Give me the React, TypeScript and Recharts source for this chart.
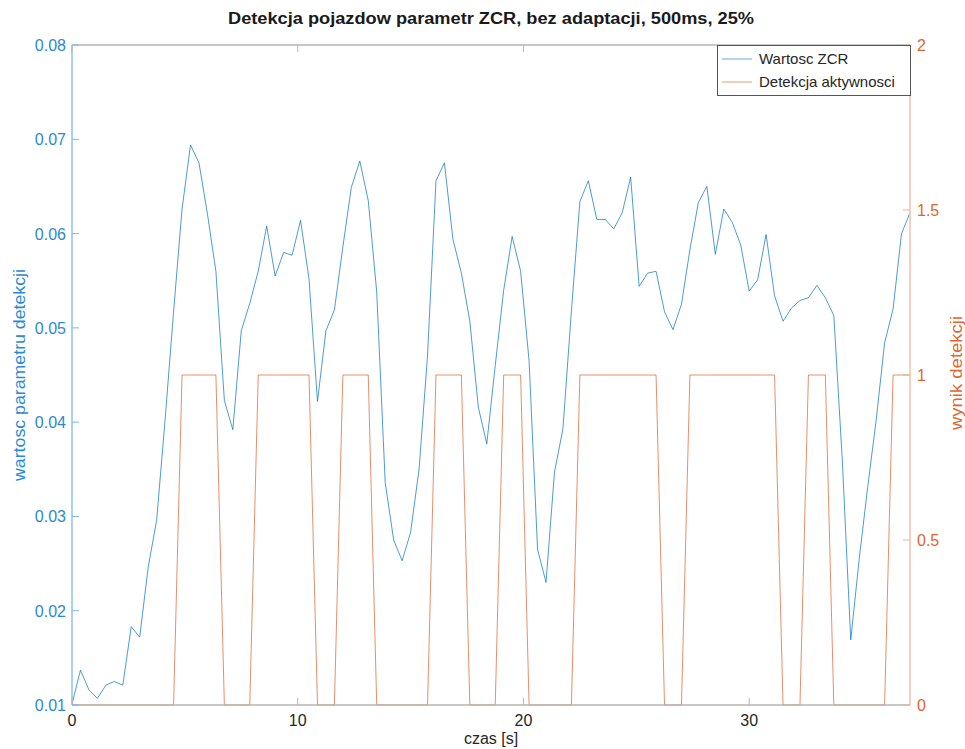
import { LineChart, Line, XAxis, YAxis, Legend } from 'recharts'

// frame hop: 500 ms window, 25% overlap -> 375 ms
const hop = 0.375

const zcr = [
  0.0101, 0.0137, 0.0116, 0.0107, 0.0121, 0.0125, 0.0121, 0.0183, 0.0172, 0.0246,
  0.0296, 0.0403, 0.0517, 0.0626, 0.0694, 0.0675, 0.0621, 0.0560, 0.0423, 0.0392,
  0.0497, 0.0526, 0.0560, 0.0608, 0.0555, 0.0580, 0.0577, 0.0614, 0.0552, 0.0422,
  0.0497, 0.0519, 0.0586, 0.0649, 0.0677, 0.0635, 0.0538, 0.0336, 0.0275, 0.0253,
  0.0283, 0.0350, 0.0470, 0.0656, 0.0675, 0.0594, 0.0558, 0.0507, 0.0416, 0.0377,
  0.0460, 0.0540, 0.0597, 0.0560, 0.0465, 0.0265, 0.0230, 0.0347, 0.0393, 0.0518,
  0.0634, 0.0656, 0.0615, 0.0615, 0.0605, 0.0622, 0.0660, 0.0544, 0.0558, 0.0560,
  0.0517, 0.0498, 0.0525, 0.0583, 0.0633, 0.0650, 0.0578, 0.0626, 0.0612, 0.0588,
  0.0539, 0.0551, 0.0599, 0.0534, 0.0507, 0.0521, 0.0529, 0.0532, 0.0545, 0.0532,
  0.0513, 0.0360, 0.0169, 0.0255, 0.0331, 0.0402, 0.0484, 0.0520, 0.0600, 0.0622,
]

const detection = [
  0, 0, 0, 0, 0, 0, 0, 0, 0, 0,
  0, 0, 0, 1, 1, 1, 1, 1, 0, 0,
  0, 0, 1, 1, 1, 1, 1, 1, 1, 0,
  0, 0, 1, 1, 1, 1, 0, 0, 0, 0,
  0, 0, 0, 1, 1, 1, 1, 0, 0, 0,
  0, 1, 1, 1, 0, 0, 0, 0, 0, 0,
  1, 1, 1, 1, 1, 1, 1, 1, 1, 1,
  0, 0, 0, 1, 1, 1, 1, 1, 1, 1,
  1, 1, 1, 1, 0, 0, 0, 1, 1, 1,
  0, 0, 0, 0, 0, 0, 0, 1, 1, 1,
]

const xTicks = [0, 10, 20, 30]
const leftTicks = [0.01, 0.02, 0.03, 0.04, 0.05, 0.06, 0.07, 0.08]
const rightTicks = [0, 0.5, 1, 1.5, 2]

const data = zcr.map((v, i) => ({ t: i * hop, zcr: v, det: detection[i] }))
const tEnd = (zcr.length - 1) * hop

const BLUE = '#0072BD'
const ORANGE = '#D95319'
const FONT = '"Liberation Sans", Arial, sans-serif'

const LeftTick = ({ x, y, payload }: any) => (
  <g>
    <line x1={x} x2={x + 7} y1={y} y2={y} stroke="#7db8e5" strokeWidth={1} />
    <text x={x - 6} y={y} dy={6} textAnchor="end" fill="#2a8ad2" fontSize={16} fontFamily={FONT}>
      {payload.value.toFixed(2)}
    </text>
  </g>
)

const RightTick = ({ x, y, payload }: any) => (
  <g>
    <line x1={x} x2={x - 7} y1={y} y2={y} stroke="#f0b090" strokeWidth={1} />
    <text x={x + 7} y={y} dy={6} textAnchor="start" fill="#e0662e" fontSize={16} fontFamily={FONT}>
      {payload.value}
    </text>
  </g>
)

const BottomTick = ({ x, y, payload }: any) => (
  <g>
    <line x1={x} x2={x} y1={y} y2={y - 7} stroke="#b5b5b5" strokeWidth={1} />
    <text x={x} y={y + 21} textAnchor="middle" fill="#262626" fontSize={16} fontFamily={FONT}>
      {payload.value}
    </text>
  </g>
)

const TopTick = ({ x, y }: any) => (
  <line x1={x} x2={x} y1={y} y2={y + 7} stroke="#b5b5b5" strokeWidth={1} />
)

const LegendBox = () => (
  <div
    style={{
      border: '1px solid #555',
      background: '#fff',
      fontFamily: FONT,
      fontSize: 15,
      color: '#262626',
      padding: '1px 4px 2px 4px',
      lineHeight: '23px',
      boxSizing: 'border-box',
      textAlign: 'left',
    }}
  >
    {[
      { name: 'Wartosc ZCR', color: BLUE },
      { name: 'Detekcja aktywnosci', color: ORANGE },
    ].map((e) => (
      <div key={e.name} style={{ display: 'flex', alignItems: 'center' }}>
        <svg width={32} height={10} style={{ marginRight: 5 }}>
          <line x1={0} x2={30} y1={5} y2={5} stroke={e.color} strokeOpacity={0.6} />
        </svg>
        <span>{e.name}</span>
      </div>
    ))}
  </div>
)

export default function App() {
  return (
    <div style={{ position: 'absolute', left: 0, top: 0, width: 965, height: 749, background: '#fff', overflow: 'hidden' }}>
      <LineChart width={965} height={749} data={data} margin={{ top: 44, right: 0, bottom: 0, left: 0 }}>
        <XAxis
          dataKey="t"
          type="number"
          domain={[0, tEnd]}
          ticks={xTicks}
          height={44}
          tickSize={0}
          tickMargin={0}
          tick={<BottomTick />}
          axisLine={{ stroke: '#b5b5b5', strokeWidth: 1.5 }}
          allowDataOverflow
        />
        <XAxis
          xAxisId="top"
          orientation="top"
          dataKey="t"
          type="number"
          domain={[0, tEnd]}
          ticks={xTicks}
          height={1}
          tickSize={0}
          tickMargin={0}
          tick={<TopTick />}
          axisLine={{ stroke: '#b5b5b5', strokeWidth: 1.5 }}
        />
        <YAxis
          yAxisId="left"
          domain={[0.01, 0.08]}
          ticks={leftTicks}
          width={72}
          tickSize={0}
          tickMargin={0}
          tick={<LeftTick />}
          axisLine={{ stroke: '#8fc2e8', strokeWidth: 1.5 }}
          allowDataOverflow
        />
        <YAxis
          yAxisId="right"
          orientation="right"
          domain={[0, 2]}
          ticks={rightTicks}
          width={55}
          tickSize={0}
          tickMargin={0}
          tick={<RightTick />}
          axisLine={{ stroke: '#f5c2a8', strokeWidth: 1.5 }}
        />
        <Legend
          layout="horizontal"
          verticalAlign="middle"
          align="center"
          content={<LegendBox />}
          wrapperStyle={{ left: 717, top: 45, width: 194, right: 'auto', bottom: 'auto' }}
        />
        <Line
          yAxisId="left"
          dataKey="zcr"
          name="Wartosc ZCR"
          stroke={BLUE}
          strokeOpacity={0.7}
          strokeWidth={1}
          dot={false}
          isAnimationActive={false}
        />
        <Line
          yAxisId="right"
          dataKey="det"
          name="Detekcja aktywnosci"
          stroke={ORANGE}
          strokeOpacity={0.65}
          strokeWidth={1}
          dot={false}
          isAnimationActive={false}
        />
      </LineChart>
      <svg width={965} height={749} style={{ position: 'absolute', left: 0, top: 0, pointerEvents: 'none' }}>
        <text x={491} y={24} textAnchor="middle" fontFamily={FONT} fontWeight="bold" fontSize={16} fill="#1a1a1a" textLength={526} lengthAdjust="spacingAndGlyphs">
          Detekcja pojazdow parametr ZCR, bez adaptacji, 500ms, 25%
        </text>
        <text x={491} y={744} textAnchor="middle" fontFamily={FONT} fontSize={16} fill="#262626">
          czas [s]
        </text>
        <text x={25} y={375} textAnchor="middle" transform="rotate(-90 25 375)" fontFamily={FONT} fontSize={17} fill="#2a8ad2" textLength={212} lengthAdjust="spacingAndGlyphs">
          wartosc parametru detekcji
        </text>
        <text x={962} y={373} textAnchor="middle" transform="rotate(-90 962 373)" fontFamily={FONT} fontSize={17} fill="#e0662e" textLength={114} lengthAdjust="spacingAndGlyphs">
          wynik detekcji
        </text>
      </svg>
    </div>
  )
}
